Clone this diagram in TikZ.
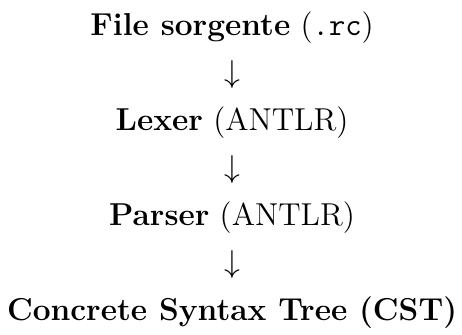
\documentclass[tikz,border=0pt]{standalone}
\usetikzlibrary{positioning, calc}
\begin{document}
\begin{tikzpicture}[
        node distance=6.8pt,
        % Passi della pipeline
        stage/.style={
                font=\Large,
                inner sep=0pt,
                text height=12pt,
                text depth=4pt
            },
        % Frecce tra i passi
        flow/.style={
                font=\Large,
                inner sep=0pt
            }
    ]

    \node[stage] (source) {\textbf{File sorgente} (\texttt{.rc})};
    \node[flow, below=of source] (arr1) {$\downarrow$};
    \node[stage, below=of arr1] (lexer) {\textbf{Lexer} (ANTLR)};
    \node[flow, below=of lexer] (arr2) {$\downarrow$};
    \node[stage, below=of arr2] (parser) {\textbf{Parser} (ANTLR)};
    \node[flow, below=of parser] (arr3) {$\downarrow$};
    \node[stage, below=of arr3] (cst) {\textbf{Concrete Syntax Tree (CST)}};

    % Margini
    \path ($(cst.south west)+(-3pt,-2pt)$) rectangle ($(source.north -| cst.east)+(2pt,4pt)$);

\end{tikzpicture}
\end{document}
